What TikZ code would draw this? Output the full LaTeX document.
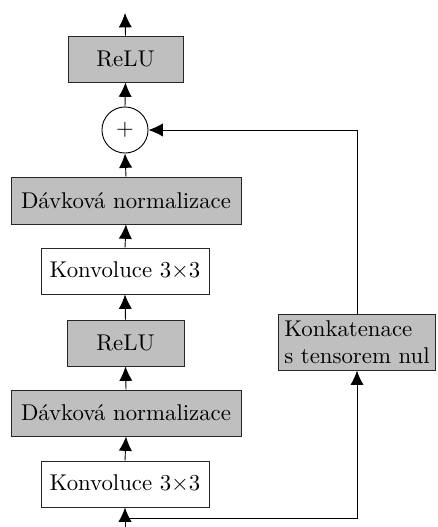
\documentclass[tikz,border=0pt]{standalone}
\usetikzlibrary{arrows.meta}
\begin{document}
\begin{tikzpicture}[x=0.4386pt,y=-0.4386pt,
  blk/.style={draw=black!85, line width=0.4pt, inner sep=3.3pt, minimum height=20.2pt, font=\normalsize},
  gbox/.style={blk, fill=gray!50},
  wbox/.style={blk, fill=white},
  arr/.style={-{Latex[length=6.3pt,width=5.8pt]}, line width=0.4pt},
  ln/.style={line width=0.4pt}]
\useasboundingbox (0,0) rectangle (438,527);
\node[gbox, minimum width=50.4pt] (relu1) at (125.5,59) {ReLU};
\node[draw, circle, line width=0.4pt, minimum size=20.2pt, inner sep=0pt] (plus) at (125,130) {$+$};
\node[gbox, minimum width=100.9pt, minimum height=20.6pt] (bn1) at (126,200.5) {Dávková normalizace};
\node[wbox, minimum width=73.7pt] (conv1) at (125,271) {Konvoluce 3$\times$3};
\node[gbox, minimum width=51.3pt] (relu2) at (125.5,343) {ReLU};
\node[gbox, minimum width=100.9pt] (bn2) at (126,413) {Dávková normalizace};
\node[wbox, minimum width=73.7pt] (conv2) at (125,484) {Konvoluce 3$\times$3};
\node[draw=black!85, line width=0.4pt, fill=gray!50, align=left, inner sep=2.6pt] (cat) at (357,342.5) {Konkatenace\\s tensorem nul};
\coordinate (out) at (125,13);
\coordinate (in) at (125,527);
\coordinate (br) at (125,518);
\draw[arr] (relu1.north) -- (out);
\draw[arr] (plus.north) -- (relu1.south);
\draw[arr] (bn1.north) -- (plus.south);
\draw[arr] (conv1.north) -- (bn1.south);
\draw[arr] (relu2.north) -- (conv1.south);
\draw[arr] (bn2.north) -- (relu2.south);
\draw[arr] (conv2.north) -- (bn2.south);
\draw[arr] (in) -- (conv2.south);
\draw[arr] (br) -| (cat.south);
\draw[arr] (cat.north) |- (plus.east);
\end{tikzpicture}
\end{document}
